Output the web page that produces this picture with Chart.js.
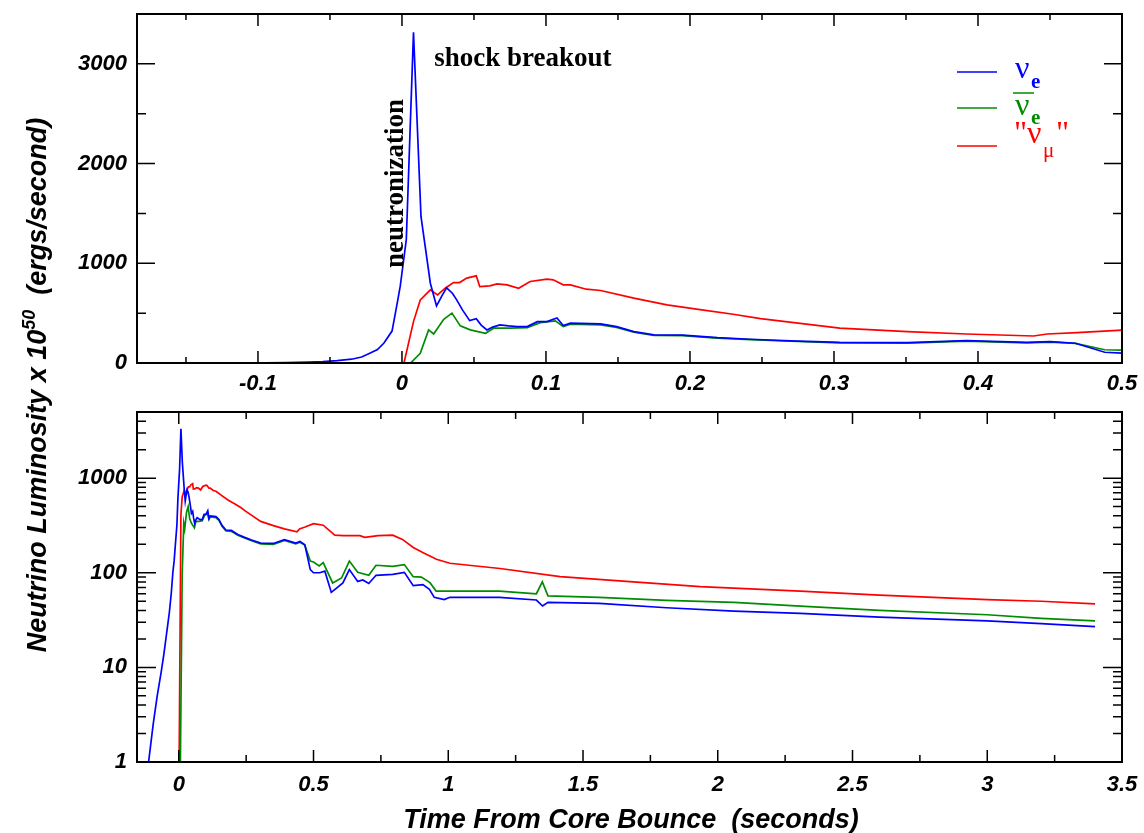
<!DOCTYPE html>
<html>
<head>
<meta charset="utf-8">
<script src="https://cdn.jsdelivr.net/npm/chart.js@4.4.0/dist/chart.umd.min.js"></script>
<style>
  body { margin: 0; background: #fff; }
  #wrap { position: relative; width: 1144px; height: 833px; }
  canvas { position: absolute; left: 0; }
  svg { position: absolute; left: 0; top: 0; }
</style>
</head>
<body>
<div id="wrap">
  <canvas id="topChart" width="1144" height="400" style="top:0"></canvas>
  <canvas id="bottomChart" width="1144" height="433" style="top:400px"></canvas>
  <svg width="1144" height="833" font-family="'Liberation Sans', Arial, sans-serif">
    <!-- axis titles -->
    <text transform="translate(46,385) rotate(-90)" text-anchor="middle" font-size="27" font-weight="bold" font-style="italic">Neutrino Luminosity x 10<tspan dy="-11" font-size="18">50</tspan><tspan dy="11">&#160;&#160;(ergs/second)</tspan></text>
    <text x="631" y="828" text-anchor="middle" font-size="27" font-weight="bold" font-style="italic">Time From Core Bounce&#160; (seconds)</text>
    <!-- legend -->
    <g font-family="'Liberation Serif', 'Times New Roman', serif">
      <line x1="957" y1="72" x2="997" y2="72" stroke="#0000ff" stroke-width="1.5"/>
      <text x="1015" y="78" font-size="32" fill="#0000ff">ν</text>
      <text x="1031" y="88" font-size="21" font-weight="bold" fill="#0000ff">e</text>

      <line x1="957" y1="108" x2="997" y2="108" stroke="rgb(0,140,0)" stroke-width="1.5"/>
      <line x1="1013" y1="93" x2="1034" y2="93" stroke="rgb(0,140,0)" stroke-width="1.5"/>
      <text x="1015" y="115" font-size="32" fill="rgb(0,140,0)">ν</text>
      <text x="1031" y="124" font-size="21" font-weight="bold" fill="rgb(0,140,0)">e</text>

      <line x1="957" y1="146" x2="997" y2="146" stroke="#ff0000" stroke-width="1.5"/>
      <text x="1014" y="143" font-size="32" fill="#ff0000">"ν</text>
      <text x="1043" y="157" font-size="21" fill="#ff0000">μ</text>
      <text x="1056" y="143" font-size="32" fill="#ff0000">"</text>
    </g>
  </svg>
</div>

<script>
// Tiempos (s) y luminosidades (x 1e50 erg/s)
var tNuE = [-0.112, -0.095, -0.08, -0.065, -0.055, -0.045, -0.035, -0.028, -0.022, -0.017, -0.0125, -0.0069, -0.0033, -0.0012,
  0.003, 0.008, 0.0132, 0.0197, 0.024, 0.028, 0.031, 0.035, 0.038, 0.042, 0.047, 0.0516, 0.055, 0.059, 0.063, 0.068,
  0.074, 0.08, 0.087, 0.094, 0.1007, 0.1076, 0.112, 0.117, 0.138, 0.149, 0.161, 0.175, 0.195, 0.219, 0.242, 0.27,
  0.304, 0.351, 0.392, 0.434, 0.45, 0.4676, 0.488, 0.5, 0.523, 0.542, 0.566, 0.609, 0.633, 0.664, 0.683, 0.705,
  0.732, 0.794, 0.837, 0.87, 0.906, 0.93, 0.948, 0.985, 1.006, 1.19, 1.327, 1.35, 1.37, 1.56, 1.81, 2.06, 2.306,
  2.6, 3.0, 3.2, 3.4];
var lumNuE = [1, 2.5, 5, 9, 14, 23, 38, 60, 100, 135, 200, 320, 600, 770,
  1236, 3316, 1470, 800, 573, 680, 754, 700, 633, 533, 425, 445, 380, 332, 360, 382,
  372, 365, 365, 415, 415, 452, 375, 399, 392, 365, 315, 283, 280, 254, 238, 222,
  206, 204, 224, 206, 214, 198, 108, 100, 100, 104, 62, 78, 108, 81, 84, 77,
  94, 96, 101, 73, 75, 67, 55, 52, 55, 55, 51.5, 44.5, 48.6, 47.5, 42.7, 39.4, 37.2,
  34, 31, 29, 27];

var tNuEBar = [0.006, 0.0127, 0.0185, 0.022, 0.029, 0.0347, 0.0405, 0.0474, 0.058, 0.0636, 0.075, 0.087, 0.096, 0.1065,
  0.112, 0.117, 0.138, 0.149, 0.161, 0.175, 0.195, 0.219, 0.242, 0.27, 0.304, 0.351, 0.392, 0.434, 0.45, 0.4676,
  0.488, 0.5, 0.521, 0.536, 0.571, 0.604, 0.633, 0.664, 0.705, 0.732, 0.794, 0.837, 0.87, 0.9, 0.932, 0.955,
  1.19, 1.29, 1.327, 1.349, 1.37, 1.56, 1.81, 2.06, 2.306, 2.6, 3.0, 3.2, 3.4];
var lumNuEBar = [0, 97, 332, 291, 439, 500, 372, 332, 298, 349, 350, 355, 405, 422,
  365, 390, 383, 357, 308, 276, 274, 249, 234, 218, 202, 200, 220, 202, 210, 196,
  133, 130, 118, 128, 78, 88, 133, 101, 94, 120, 117, 122, 91, 90, 78.6, 64,
  64, 61, 60, 80, 57, 55, 51, 48.6, 44.5, 40, 36, 33, 31];

var tNuMu = [0.0014, 0.008, 0.0127, 0.0197, 0.0247, 0.03, 0.0358, 0.04, 0.045, 0.0516, 0.054, 0.061, 0.066, 0.073,
  0.081, 0.089, 0.1007, 0.105, 0.112, 0.117, 0.128, 0.138, 0.161, 0.184, 0.207, 0.23, 0.249, 0.304, 0.351, 0.392,
  0.4386, 0.448, 0.4688, 0.5, 0.536, 0.579, 0.61, 0.672, 0.69, 0.74, 0.794, 0.83, 0.87, 0.907, 0.956, 1.006,
  1.192, 1.415, 1.687, 1.935, 2.306, 2.6, 3.0, 3.2, 3.4];
var lumNuMu = [0, 415, 633, 734, 683, 750, 807, 807, 851, 874, 767, 774, 794, 784,
  750, 817, 841, 834, 784, 784, 740, 727, 650, 583, 535, 489, 445, 349, 315, 291,
  271, 291, 305, 330, 318, 250, 247, 247, 237, 247, 250, 225, 185, 163, 139, 126,
  111, 91, 80, 71.5, 64, 58, 52, 50, 47];

// Marcas de los ejes
var topXTicks = [-0.1, 0, 0.1, 0.2, 0.3, 0.4, 0.5];
var topYTicks = [0, 1000, 2000, 3000];
var botXTicks = [0, 0.5, 1, 1.5, 2, 2.5, 3, 3.5];
var botYTicks = [1, 10, 100, 1000];

var BLUE = "#0000ff", GREEN = "rgb(0,140,0)", RED = "#ff0000";
var tickFont = { family: "'Liberation Sans', Arial, sans-serif", size: 22, weight: "bold", style: "italic" };

// floor: en el eje log los ceros se dibujan en el borde inferior
function toPoints(ts, ls, floor) {
  return ts.map(function (t, i) { return { x: t, y: floor ? Math.max(ls[i], floor) : ls[i] }; });
}

function makeDatasets(floor) {
  return [
    { label: "nu_e", data: toPoints(tNuE, lumNuE, floor), borderColor: BLUE },
    { label: "nu_e bar", data: toPoints(tNuEBar, lumNuEBar, floor), borderColor: GREEN },
    { label: "nu_mu", data: toPoints(tNuMu, lumNuMu, floor), borderColor: RED },
  ];
}

// Marcas hacia adentro en los cuatro lados y el marco
var frameTicks = {
  id: "frameTicks",
  afterDraw: function (chart, args, opts) {
    var ctx = chart.ctx, a = chart.chartArea, x = chart.scales.x, y = chart.scales.y;
    ctx.save();
    ctx.strokeStyle = "#000";
    ctx.lineWidth = 1.5;
    ctx.beginPath();
    opts.xMarks.forEach(function (m) {
      var px = x.getPixelForValue(m[0]);
      if (px < a.left - 0.5 || px > a.right + 0.5) return;
      ctx.moveTo(px, a.bottom); ctx.lineTo(px, a.bottom - m[1]);
      ctx.moveTo(px, a.top); ctx.lineTo(px, a.top + m[1]);
    });
    opts.yMarks.forEach(function (m) {
      var py = y.getPixelForValue(m[0]);
      if (py < a.top - 0.5 || py > a.bottom + 0.5) return;
      ctx.moveTo(a.left, py); ctx.lineTo(a.left + m[1], py);
      ctx.moveTo(a.right, py); ctx.lineTo(a.right - m[1], py);
    });
    ctx.stroke();
    ctx.lineWidth = 2;
    ctx.strokeRect(a.left, a.top, a.right - a.left, a.bottom - a.top);
    ctx.restore();
  }
};

// Textos dentro del grafico superior
var notes = {
  id: "notes",
  afterDatasetsDraw: function (chart, args, opts) {
    var ctx = chart.ctx;
    (opts.items || []).forEach(function (n) {
      var px = chart.scales.x.getPixelForValue(n.x);
      var py = chart.scales.y.getPixelForValue(n.y);
      ctx.save();
      ctx.font = "bold 27px 'Liberation Serif', 'Times New Roman', serif";
      ctx.fillStyle = "#000";
      ctx.translate(px, py);
      ctx.rotate(n.rot || 0);
      ctx.textAlign = n.align;
      ctx.textBaseline = "alphabetic";
      ctx.fillText(n.text, 0, 0);
      ctx.restore();
    });
  }
};

function linMarks(min, max, majorStep, minorStep) {
  var out = [];
  for (var k = Math.ceil(min / minorStep - 1e-6); k * minorStep <= max + 1e-9; k++) {
    var v = +(k * minorStep).toFixed(6);
    var isMajor = Math.abs(v / majorStep - Math.round(v / majorStep)) < 1e-6;
    out.push([v, isMajor ? 0 : 1]);
  }
  return out;
}

function setTicks(list) {
  return function (scale) { scale.ticks = list.map(function (v) { return { value: v }; }); };
}

// tamaño fijo de los ejes, sin el margen extra que pone Chart.js para las etiquetas
function fixX(h) {
  return function (s) { s.height = h; s.paddingLeft = 0; s.paddingRight = 0; };
}
function fixY(w) {
  return function (s) { s.width = w; s.paddingTop = 0; s.paddingBottom = 0; };
}

Chart.defaults.animation = false;

// Grafico superior, escala lineal
var topCtx = document.getElementById("topChart").getContext("2d");
new Chart(topCtx, {
  type: "line",
  data: { datasets: makeDatasets(0) },
  options: {
    responsive: false,
    devicePixelRatio: 1,
    elements: { point: { radius: 0 }, line: { borderWidth: 1.7, tension: 0 } },
    layout: { padding: { left: 0, top: 14, right: 22, bottom: 0 } },
    plugins: {
      legend: { display: false },
      tooltip: { enabled: false },
      frameTicks: {
        xMarks: linMarks(-0.184, 0.5, 0.1, 0.05).map(function (m) { return [m[0], m[1] ? 6 : 12]; }),
        yMarks: linMarks(0, 3500, 1000, 500).map(function (m) { return [m[0], m[1] ? 9 : 18]; })
      },
      notes: {
        items: [
          { text: "shock breakout", x: 0.0224, y: 2975, align: "left" },
          { text: "neutronization", x: 0.0009, y: 1800, align: "center", rot: -Math.PI / 2 }
        ]
      }
    },
    scales: {
      x: {
        type: "linear", min: -0.184, max: 0.5,
        afterBuildTicks: setTicks(topXTicks),
        afterFit: fixX(37),
        grid: { display: false, drawTicks: false },
        border: { display: false },
        ticks: { font: tickFont, color: "#000", padding: 8, autoSkip: false, maxRotation: 0,
          callback: function (v) { return String(v); } }
      },
      y: {
        type: "linear", min: 0, max: 3500,
        afterBuildTicks: setTicks(topYTicks),
        afterFit: fixY(137),
        grid: { display: false, drawTicks: false },
        border: { display: false },
        ticks: { font: tickFont, color: "#000", padding: 10,
          callback: function (v) { return String(v); } }
      }
    }
  },
  plugins: [frameTicks, notes]
});

// Grafico inferior, escala logaritmica
var logMarks = [];
botYTicks.forEach(function (d) {
  for (var k = 1; k <= 9; k++) {
    if (d * k <= 5000) logMarks.push([d * k, k === 1 ? 19 : 9]);
  }
});

var botCtx = document.getElementById("bottomChart").getContext("2d");
new Chart(botCtx, {
  type: "line",
  data: { datasets: makeDatasets(1) },
  options: {
    responsive: false,
    devicePixelRatio: 1,
    elements: { point: { radius: 0 }, line: { borderWidth: 1.7, tension: 0 } },
    layout: { padding: { left: 0, top: 12, right: 22, bottom: 0 } },
    plugins: {
      legend: { display: false },
      tooltip: { enabled: false },
      frameTicks: {
        xMarks: linMarks(-0.155, 3.5, 0.5, 0.25).map(function (m) { return [m[0], m[1] ? 7 : 12]; }),
        yMarks: logMarks
      }
    },
    scales: {
      x: {
        type: "linear", min: -0.155, max: 3.5,
        afterBuildTicks: setTicks(botXTicks),
        afterFit: fixX(71),
        grid: { display: false, drawTicks: false },
        border: { display: false },
        ticks: { font: tickFont, color: "#000", padding: 10, autoSkip: false, maxRotation: 0,
          callback: function (v) { return String(v); } }
      },
      y: {
        type: "logarithmic", min: 1, max: 5000,
        afterBuildTicks: setTicks(botYTicks),
        afterFit: fixY(137),
        grid: { display: false, drawTicks: false },
        border: { display: false },
        ticks: { font: tickFont, color: "#000", padding: 10,
          callback: function (v) { return String(v); } }
      }
    }
  },
  plugins: [frameTicks]
});
</script>
</body>
</html>
